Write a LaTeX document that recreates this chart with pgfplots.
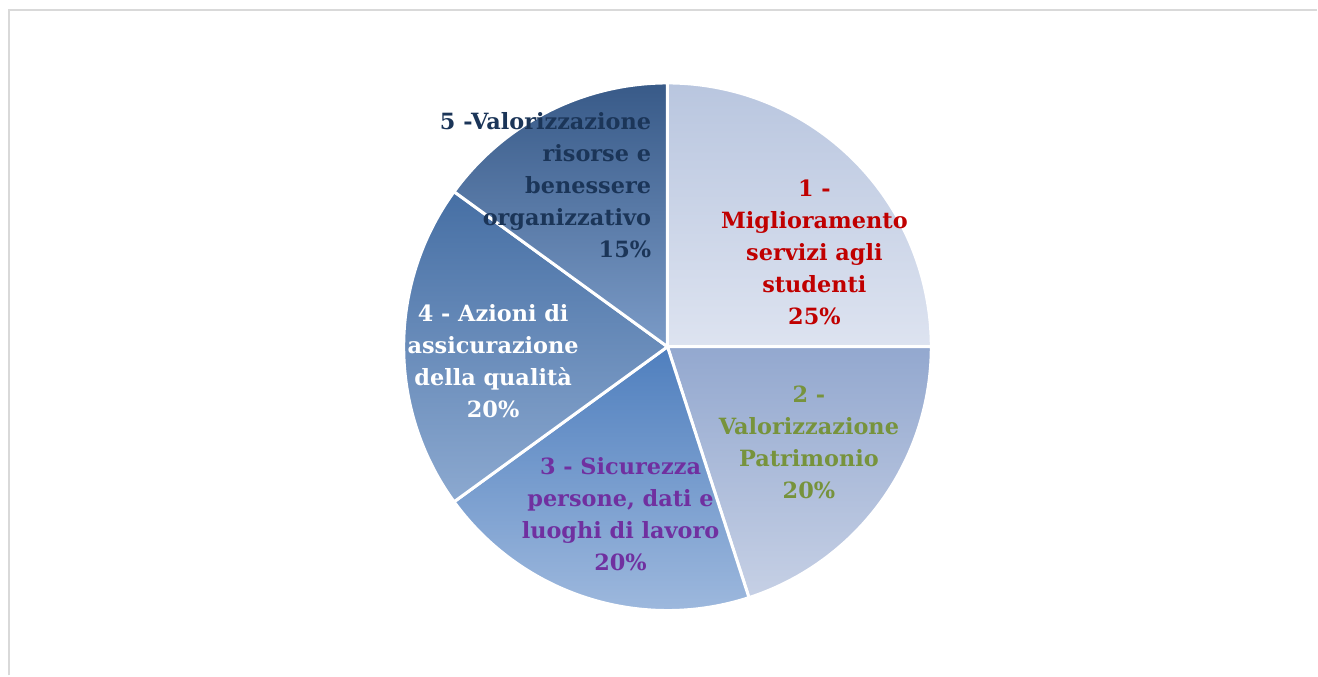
\documentclass[border=0pt]{standalone}
\usepackage{pgfplots}
\pgfplotsset{compat=1.18}
\usepackage{fontspec}
\setmainfont{DejaVu Serif}
\definecolor{labA}{HTML}{C00000}
\definecolor{labB}{HTML}{77933C}
\definecolor{labC}{HTML}{7030A0}
\definecolor{labE}{HTML}{1B3558}
\definecolor{sAt}{HTML}{B9C6DF}\definecolor{sAb}{HTML}{DDE3F0}
\definecolor{sBt}{HTML}{93A8CF}\definecolor{sBb}{HTML}{C6D0E5}
\definecolor{sCt}{HTML}{4F7FBE}\definecolor{sCb}{HTML}{9DB8DD}
\definecolor{sDt}{HTML}{466FA4}\definecolor{sDb}{HTML}{8CA9D0}
\definecolor{sEt}{HTML}{385A88}\definecolor{sEb}{HTML}{7B9BC7}
\definecolor{frame}{HTML}{D9D9D9}
% shares in percent
\def\vA{25}\def\vB{20}\def\vC{20}\def\vD{20}\def\vE{15}
\pgfmathsetmacro\aA{90}
\pgfmathsetmacro\aB{\aA-3.6*\vA}
\pgfmathsetmacro\aC{\aB-3.6*\vB}
\pgfmathsetmacro\aD{\aC-3.6*\vC}
\pgfmathsetmacro\aE{\aD-3.6*\vD}
\pgfmathsetmacro\aF{\aE-3.6*\vE}
\begin{document}
\begin{tikzpicture}
\begin{axis}[scale only axis, width=659pt, height=338pt,
  xmin=0, xmax=1318, ymin=0, ymax=676, hide axis, clip=false]
\path[fill=white] (axis cs:0,0) rectangle (axis cs:1318,676);
\draw[frame, line width=1pt] (axis cs:9,0) -- (axis cs:9,666) -- (axis cs:1318,666);
\addplot[domain=\aB:\aA, samples=90, top color=sAt, bottom color=sAb, draw=white, line width=1.5pt]
  ({668+264*cos(x)},{329+264*sin(x)}) -- (axis cs:668,329) -- cycle;
\addplot[domain=\aC:\aB, samples=90, top color=sBt, bottom color=sBb, draw=white, line width=1.5pt]
  ({668+264*cos(x)},{329+264*sin(x)}) -- (axis cs:668,329) -- cycle;
\addplot[domain=\aD:\aC, samples=90, top color=sCt, bottom color=sCb, draw=white, line width=1.5pt]
  ({668+264*cos(x)},{329+264*sin(x)}) -- (axis cs:668,329) -- cycle;
\addplot[domain=\aE:\aD, samples=90, top color=sDt, bottom color=sDb, draw=white, line width=1.5pt]
  ({668+264*cos(x)},{329+264*sin(x)}) -- (axis cs:668,329) -- cycle;
\addplot[domain=\aF:\aE, samples=90, top color=sEt, bottom color=sEb, draw=white, line width=1.5pt]
  ({668+264*cos(x)},{329+264*sin(x)}) -- (axis cs:668,329) -- cycle;
\tikzset{lab/.style={font=\fontsize{11.2}{16}\selectfont\bfseries, inner sep=0pt}}
\node[lab, align=center, text=labA] at (axis cs:815,423.5) {1 -\\Miglioramento\\servizi agli\\studenti\\25\%};
\node[lab, align=center, text=labB] at (axis cs:809.5,233) {2 -\\Valorizzazione\\Patrimonio\\20\%};
\node[lab, align=center, text=labC] at (axis cs:621,161) {3 - Sicurezza\\persone, dati e\\luoghi di lavoro\\20\%};
\node[lab, align=center, text=white] at (axis cs:493.5,314.5) {4 - Azioni di\\assicurazione\\della qualità\\20\%};
\node[lab, align=right, text=labE, anchor=east] at (axis cs:652,490.5) {5 -Valorizzazione\\risorse e\\benessere\\organizzativo\\15\%};
\end{axis}
\end{tikzpicture}
\end{document}
